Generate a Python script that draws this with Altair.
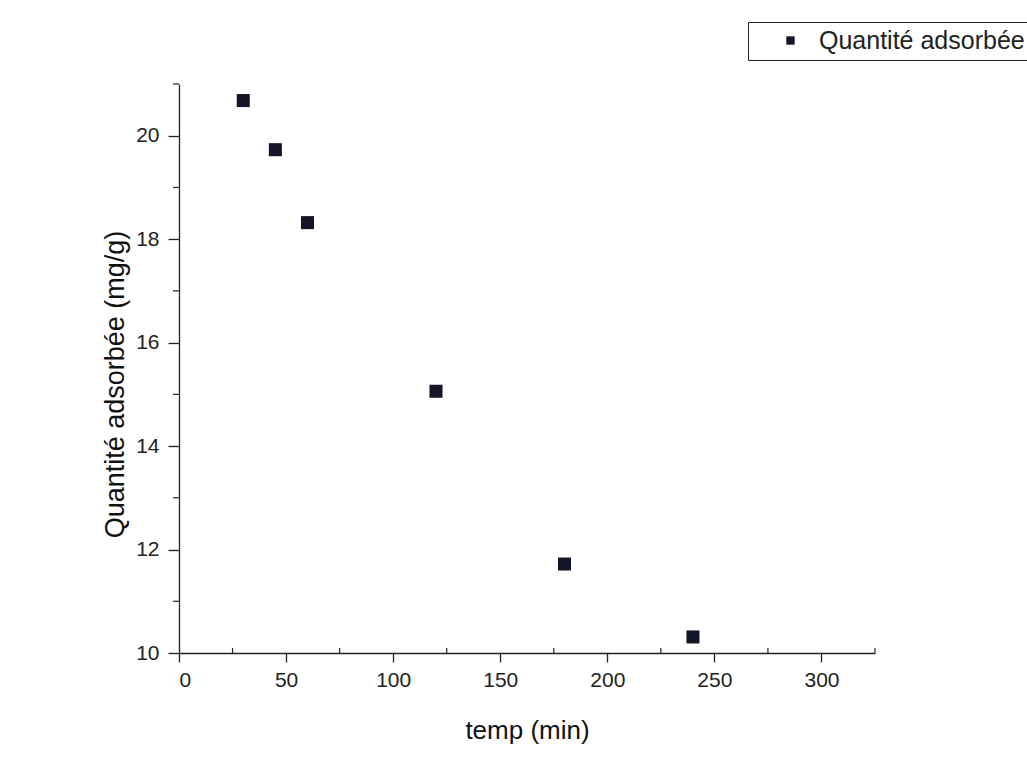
import altair as alt
import pandas as pd

# data
temps = [30, 45, 60, 120, 180, 240]
quantites = [20.68, 19.73, 18.32, 15.06, 11.72, 10.31]
series_name = "Quantité adsorbée"

x_major = [0, 50, 100, 150, 200, 250, 300]
y_major = [10, 12, 14, 16, 18, 20]
x_minor = [25, 75, 125, 175, 225, 275, 325]
y_minor = [11, 13, 15, 17, 19, 21]

W, H = 696, 569
FONT = "Liberation Sans"
INK = "#15152a"

df = pd.DataFrame({"temp": temps, "q": quantites, "serie": [series_name] * len(temps)})
dfx = pd.DataFrame({"v": x_minor})
dfy = pd.DataFrame({"v": y_minor})

xscale = alt.Scale(domain=[0, 325], nice=False, zero=False)
yscale = alt.Scale(domain=[10, 21], nice=False, zero=False)

points = alt.Chart(df).mark_point(shape="square", filled=True, size=170, opacity=1).encode(
    x=alt.X("temp:Q", scale=xscale, title="temp (min)",
            axis=alt.Axis(values=x_major, grid=False, tickSize=9, labelPadding=7,
                          labelFontSize=21, titleFontSize=26, titlePadding=27)),
    y=alt.Y("q:Q", scale=yscale, title="Quantité adsorbée (mg/g)",
            axis=alt.Axis(values=y_major, grid=False, tickSize=11, labelPadding=9,
                          labelFontSize=21, titleFontSize=27, titlePadding=6,
                          titleY=300)),
    color=alt.Color("serie:N", scale=alt.Scale(range=[INK]),
                    legend=alt.Legend(title=None, orient="none", legendX=569, legendY=-62,
                                      strokeColor="#222", padding=6, symbolType="square",
                                      symbolSize=70, symbolOffset=24, labelOffset=16,
                                      labelFontSize=25, labelFont=FONT, labelColor="#222",
                                      labelLimit=600, cornerRadius=0)),
)

xminor = alt.Chart(dfx).mark_rule(color="#222", strokeWidth=1.2).encode(
    x=alt.X("v:Q", scale=xscale), y=alt.value(H), y2=alt.value(H - 5)
)
yminor = alt.Chart(dfy).mark_rule(color="#222", strokeWidth=1.2).encode(
    y=alt.Y("v:Q", scale=yscale), x=alt.value(0), x2=alt.value(-6)
)

chart = alt.layer(xminor, yminor, points).properties(
    width=W, height=H,
    autosize=alt.AutoSizeParams(type="none"),
    padding={"left": 179, "top": 84, "right": 1027 - 179 - W, "bottom": 765 - 84 - H},
    background="white",
).configure_view(stroke=None).configure_axis(
    domainColor="#222", domainWidth=1.3, tickColor="#222", tickWidth=1.3,
    labelFont=FONT, labelColor="#222",
    titleFont=FONT, titleColor="#111", titleFontWeight="normal",
)

chart.save("out.html", embed_options={"renderer": "svg", "actions": False})
